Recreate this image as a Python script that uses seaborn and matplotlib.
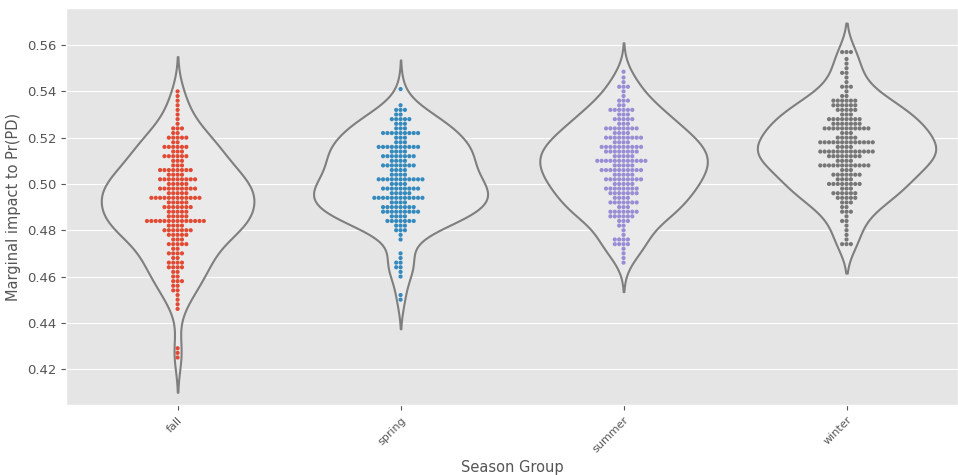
"""
Season group marginal impact: violin + swarm, ggplot look.
"""

import numpy as np
import pandas as pd
import matplotlib
matplotlib.use("Agg")
import matplotlib.pyplot as plt
import seaborn as sns

plt.style.use("ggplot")

# ─── Data (repeated values = one swarm row) ──────────────────────────────────
seasons = ["fall", "spring", "summer", "winter"]
colors = ["#E24A33", "#348ABD", "#988ED5", "#777777"]

fall_vals = [0.425, 0.427, 0.429, 0.446, 0.448, 0.450, 0.452, 0.454, 0.456,
             0.458, 0.460, 0.462, 0.464, 0.466, 0.468, 0.470, 0.472, 0.474,
             0.476, 0.478, 0.480, 0.482, 0.484, 0.486, 0.488, 0.490, 0.492,
             0.494, 0.496, 0.498, 0.500, 0.502, 0.504, 0.506, 0.508, 0.510,
             0.512, 0.514, 0.516, 0.518, 0.520, 0.522, 0.524, 0.526, 0.528,
             0.530, 0.532, 0.534, 0.536, 0.538, 0.540]
fall_counts = [1, 1, 1, 1, 1, 1, 1, 2, 2,
               3, 2, 2, 4, 4, 2, 4, 2, 5,
               3, 5, 7, 4, 14, 5, 5, 7, 5,
               12, 5, 9, 5, 9, 4, 8, 3, 3,
               6, 3, 6, 2, 5, 2, 3, 1, 1,
               1, 1, 1, 1, 1, 1]

spring_vals = [0.450, 0.452, 0.460, 0.462, 0.464, 0.466, 0.468, 0.470, 0.476,
               0.478, 0.480, 0.482, 0.484, 0.486, 0.488, 0.490, 0.492, 0.494,
               0.496, 0.498, 0.500, 0.502, 0.504, 0.506, 0.508, 0.510, 0.512,
               0.514, 0.516, 0.518, 0.520, 0.522, 0.524, 0.526, 0.528, 0.530,
               0.532, 0.534, 0.541]
spring_counts = [1, 1, 1, 1, 2, 2, 1, 1, 1,
                 1, 3, 3, 7, 4, 9, 8, 4, 12,
                 5, 9, 4, 11, 4, 4, 8, 4, 8,
                 4, 10, 3, 3, 9, 3, 3, 5, 2,
                 3, 1, 1]

summer_vals = [0.466, 0.468, 0.470, 0.472, 0.474, 0.476, 0.478, 0.480, 0.482,
               0.484, 0.486, 0.488, 0.490, 0.492, 0.494, 0.496, 0.498, 0.500,
               0.502, 0.504, 0.506, 0.508, 0.510, 0.512, 0.514, 0.516, 0.518,
               0.520, 0.522, 0.524, 0.526, 0.528, 0.530, 0.532, 0.534, 0.536,
               0.538, 0.540, 0.542, 0.544, 0.546, 0.5485]
summer_counts = [1, 1, 1, 1, 4, 4, 1, 1, 2,
                 3, 6, 7, 3, 7, 4, 7, 8, 5,
                 9, 5, 10, 5, 12, 5, 8, 10, 4,
                 9, 4, 8, 3, 5, 3, 6, 2, 3,
                 1, 1, 3, 1, 1, 1]

winter_vals = [0.474, 0.476, 0.478, 0.480, 0.482, 0.484, 0.486, 0.488, 0.490,
               0.492, 0.494, 0.496, 0.498, 0.500, 0.502, 0.504, 0.506, 0.508,
               0.510, 0.512, 0.514, 0.516, 0.518, 0.520, 0.522, 0.524, 0.526,
               0.528, 0.530, 0.532, 0.534, 0.536, 0.538, 0.540, 0.542, 0.544,
               0.546, 0.548, 0.550, 0.552, 0.554, 0.557]
winter_counts = [3, 1, 1, 1, 1, 2, 1, 3, 2,
                 3, 5, 6, 3, 8, 4, 7, 3, 12,
                 4, 8, 13, 4, 13, 5, 3, 11, 7,
                 8, 3, 5, 6, 6, 2, 1, 3, 1,
                 1, 2, 1, 1, 1, 3]

groups = {
    "fall": (fall_vals, fall_counts),
    "spring": (spring_vals, spring_counts),
    "summer": (summer_vals, summer_counts),
    "winter": (winter_vals, winter_counts),
}

frames = []
for name, (vals, cnts) in groups.items():
    frames.append(pd.DataFrame({"season": name,
                                "impact": np.repeat(vals, cnts)}))
df = pd.concat(frames, ignore_index=True)

# ─── Plot ────────────────────────────────────────────────────────────────────
fig = plt.figure(figsize=(9.58, 4.75), dpi=100)
ax = fig.add_axes([0.069, 0.147, 0.931, 0.836])

sns.violinplot(data=df, x="season", y="impact", order=seasons, inner=None,
               color="#EAEAEA", saturation=1, linecolor="#7f7f7f",
               linewidth=1.5, ax=ax)
sns.swarmplot(data=df, x="season", y="impact", order=seasons,
              hue="season", hue_order=seasons, palette=colors,
              size=3, linewidth=0, legend=False, ax=ax)

ax.set_ylim(0.4044, 0.576)
ax.set_xlabel("Season Group", fontsize=10.5, color="#555555")
ax.set_ylabel("Marginal impact to Pr(PD)", fontsize=10.5, color="#555555")
ax.set_yticks([0.42, 0.44, 0.46, 0.48, 0.50, 0.52, 0.54, 0.56])
ax.set_yticklabels(["0.42", "0.44", "0.46", "0.48", "0.50", "0.52",
                    "0.54", "0.56"])
ax.tick_params(axis="y", labelsize=9.5)
ax.tick_params(axis="x", labelsize=8)
plt.setp(ax.get_xticklabels(), rotation=45, ha="right",
         rotation_mode="anchor")
ax.xaxis.grid(False)

fig.savefig("out.png", dpi=100)
